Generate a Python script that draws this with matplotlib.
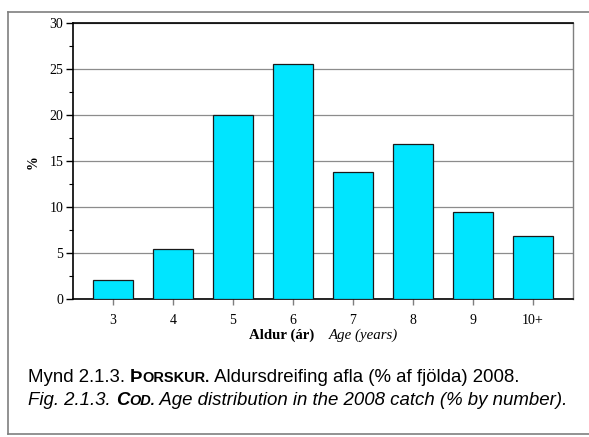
import matplotlib
matplotlib.use("Agg")
import matplotlib.pyplot as plt
from matplotlib.lines import Line2D

ages = ["3", "4", "5", "6", "7", "8", "9", "10+"]
percent = [2.1, 5.4, 20.0, 25.5, 13.8, 16.8, 9.5, 6.9]
yticks = [0, 5, 10, 15, 20, 25, 30]

W, H = 589, 437
fig = plt.figure(figsize=(W / 100, H / 100), dpi=100)
fig.patch.set_facecolor("white")

# outer frame (left, top, bottom lines)
fc = "#7f7f7f"
fig.add_artist(Line2D([8 / W, 8 / W], [1 - 12 / H, 1 - 434 / H], color=fc, lw=1.2, transform=fig.transFigure))
fig.add_artist(Line2D([8 / W, 1.0], [1 - 12 / H, 1 - 12 / H], color=fc, lw=1.2, transform=fig.transFigure))
fig.add_artist(Line2D([8 / W, 1.0], [1 - 434 / H, 1 - 434 / H], color=fc, lw=1.2, transform=fig.transFigure))

ax = fig.add_axes([73 / W, 1 - 299 / H, 500 / W, 276 / H])
x = list(range(len(ages)))
ax.bar(x, percent, width=0.67, color="#00E5FF", edgecolor="#1a1a1a", linewidth=0.9, zorder=3)
ax.set_xlim(-0.667, 7.667)
ax.set_ylim(0, 30)
ax.set_yticks(yticks)
ax.set_yticks([v + 2.5 for v in yticks[:-1]], minor=True)
ax.set_xticks(x)
ax.set_xticklabels(ages)
ax.grid(axis="y", color="#8c8c8c", lw=0.9, zorder=0)
ax.set_axisbelow(True)

serif = ["Liberation Serif", "DejaVu Serif"]
for lab in ax.get_xticklabels() + ax.get_yticklabels():
    lab.set_fontfamily(serif)
    lab.set_fontsize(10)
ax.tick_params(axis="y", which="major", direction="out", length=5, width=1, color="black", pad=2)
ax.tick_params(axis="y", which="minor", direction="out", length=3, width=0.8, color="black")
ax.tick_params(axis="x", direction="out", length=4, width=1, color="#7f7f7f", pad=7)
for s in ["left", "top", "bottom"]:
    ax.spines[s].set_color("black")
    ax.spines[s].set_linewidth(1.2)
ax.spines["right"].set_color("#7f7f7f")
ax.spines["right"].set_linewidth(1.0)

fig.text(33 / W, 1 - 162 / H, "%", rotation=90, ha="center", va="center",
         fontfamily=serif, fontweight="bold", fontsize=10)

fig.canvas.draw()
renderer = fig.canvas.get_renderer()


def seq(x0, y0, parts):
    """Place text pieces one after another; parts = (text, kwargs, extra gap px)."""
    xpos = x0
    for txt, kw, gap in parts:
        t = fig.text(xpos / W, 1 - y0 / H, txt, ha="left", va="baseline", **kw)
        bb = t.get_window_extent(renderer=renderer)
        xpos += bb.width + gap


seq(249, 339, [
    ("Aldur (ár)", dict(fontfamily=serif, fontweight="bold", fontsize=10.7), 15),
    ("Age (years)", dict(fontfamily=serif, fontstyle="italic", fontsize=10.7), 0),
])

sans = ["Liberation Sans", "DejaVu Sans"]
fs = 13.4
seq(28, 382, [
    ("Mynd 2.1.3. ", dict(fontfamily=sans, fontsize=fs), 0),
    ("Þ", dict(fontfamily=sans, fontsize=fs, fontweight="bold"), 0),
    ("ORSKUR.", dict(fontfamily=sans, fontsize=fs * 0.78, fontweight="bold"), 0),
    (" Aldursdreifing afla (% af fjölda) 2008.", dict(fontfamily=sans, fontsize=fs), 0),
])
seq(28, 405, [
    ("Fig. 2.1.3. ", dict(fontfamily=sans, fontsize=fs, fontstyle="italic"), 0),
    ("C", dict(fontfamily=sans, fontsize=fs, fontweight="bold", fontstyle="italic"), 0),
    ("OD.", dict(fontfamily=sans, fontsize=fs * 0.78, fontweight="bold", fontstyle="italic"), 0),
    (" Age distribution in the 2008 catch (% by number).", dict(fontfamily=sans, fontsize=fs, fontstyle="italic"), 0),
])

fig.savefig("out.png", dpi=100)
